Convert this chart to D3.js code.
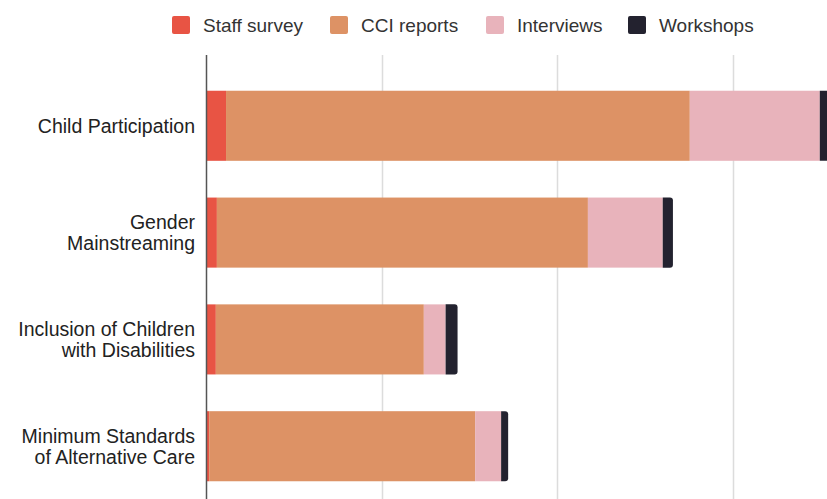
<!DOCTYPE html>
<html>
<head>
<meta charset="utf-8">
<script src="https://cdn.jsdelivr.net/npm/d3@7"></script>
<style>
  body { margin: 0; background: #fff; }
  svg { display: block; font-family: "Liberation Sans", Arial, sans-serif; }
</style>
</head>
<body>
<svg id="svg" width="827" height="499"></svg>
<script>
// data (one gridline = 50 units)
const categories = [
  ["Child Participation"],
  ["Gender", "Mainstreaming"],
  ["Inclusion of Children", "with Disabilities"],
  ["Minimum Standards", "of Alternative Care"]
];
const seriesNames = ["Staff survey", "CCI reports", "Interviews", "Workshops"];
const staffSurvey = [5.7, 3.1, 2.8, 0.9];
const cciReports = [132, 105.6, 59.2, 75.7];
const interviews = [37, 21.3, 6.2, 7.4];
const workshops = [3, 2.9, 3.4, 2.0];
const xTicks = [0, 50, 100, 150, 200];
const colors = ["#e85444", "#dd9265", "#e8b3bb", "#23222f"];

const svg = d3.select("#svg");
const width = +svg.attr("width");
const height = +svg.attr("height");
const padding = { left: 206, top: 54 };

const rows = categories.map((c, i) => ({
  key: i, label: c,
  v: [staffSurvey[i], cciReports[i], interviews[i], workshops[i]]
}));

const x = d3.scaleLinear().domain([0, 200]).range([padding.left, padding.left + 4 * 175.67]);
const y = d3.scaleBand().domain(rows.map(d => d.key)).range([padding.top, 518]).padding(0.344);

// gridlines
svg.append("g").selectAll("line")
  .data(xTicks.filter(t => t > 0))
  .enter().append("line")
  .attr("x1", d => Math.round(x(d)) + 0.5).attr("x2", d => Math.round(x(d)) + 0.5)
  .attr("y1", 55).attr("y2", height)
  .attr("stroke", "#dcdcdc").attr("stroke-width", 1.5);

// bars
const g = svg.append("g");
rows.forEach(r => {
  let acc = 0;
  r.v.forEach((val, j) => {
    const x0 = x(acc), x1 = x(acc + val);
    acc += val;
    if (j === r.v.length - 1) {
      // rounded right end
      const rr = 3, yt = y(r.key), yb = y(r.key) + y.bandwidth();
      g.append("path")
        .attr("d", `M${x0},${yt}H${x1 - rr}Q${x1},${yt} ${x1},${yt + rr}V${yb - rr}Q${x1},${yb} ${x1 - rr},${yb}H${x0}Z`)
        .attr("fill", colors[j]);
    } else {
      g.append("rect")
        .attr("x", x0).attr("y", y(r.key))
        .attr("width", x1 - x0).attr("height", y.bandwidth())
        .attr("fill", colors[j]);
    }
  });
});

// axis line
svg.append("line")
  .attr("x1", padding.left + 0.5).attr("x2", padding.left + 0.5)
  .attr("y1", 55).attr("y2", height)
  .attr("stroke", "#555").attr("stroke-width", 1.5);

// category labels
const labels = svg.append("g");
rows.forEach(r => {
  const cy = y(r.key) + y.bandwidth() / 2;
  const n = r.label.length;
  const t = labels.append("text")
    .attr("text-anchor", "end")
    .attr("fill", "#222")
    .attr("font-size", 19.5);
  r.label.forEach((line, k) => {
    t.append("tspan")
      .attr("x", 195)
      .attr("y", cy + (k - (n - 1) / 2) * 21 + 7)
      .text(line);
  });
});

// legend
const legendX = [172, 330, 486, 628];
const legend = svg.append("g");
seriesNames.forEach((s, i) => {
  legend.append("rect")
    .attr("x", legendX[i]).attr("y", 16)
    .attr("width", 18).attr("height", 18).attr("rx", 2)
    .attr("fill", colors[i]);
  legend.append("text")
    .attr("x", legendX[i] + 31).attr("y", 31.5)
    .attr("font-size", 19).attr("fill", "#333")
    .text(s);
});
</script>
</body>
</html>
